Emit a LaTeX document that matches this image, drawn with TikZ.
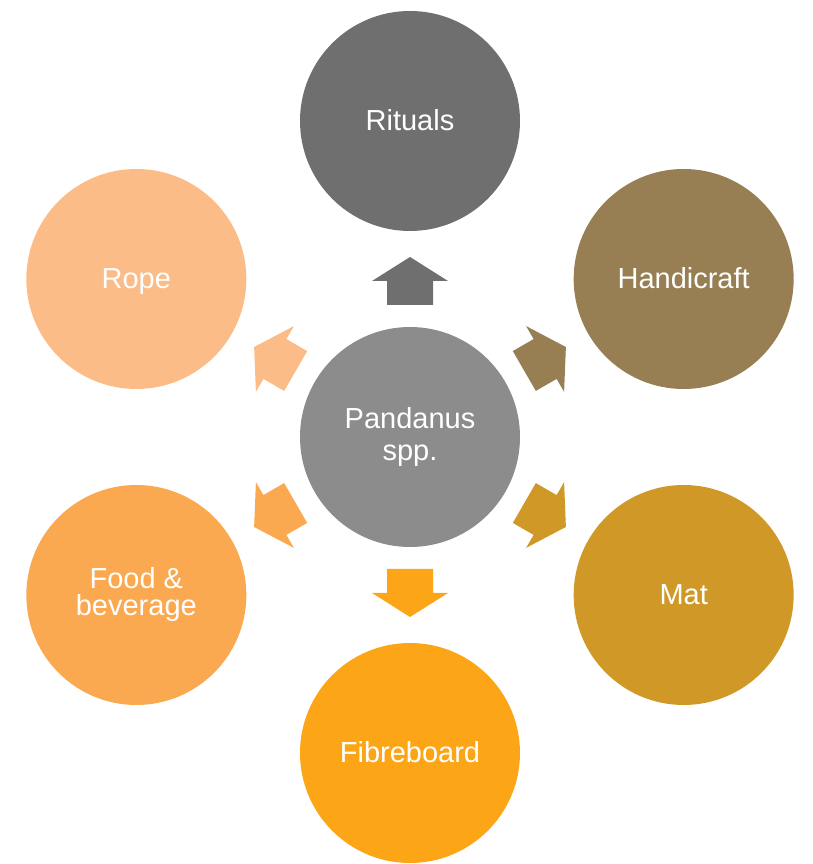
\documentclass[tikz,border=0pt]{standalone}
\usepackage{fontspec}
\setmainfont{Liberation Sans}
\usetikzlibrary{calc}
\definecolor{cRit}{HTML}{6F6F6F}
\definecolor{cCen}{HTML}{8C8C8C}
\definecolor{cHan}{HTML}{977F53}
\definecolor{cMat}{HTML}{D09927}
\definecolor{cFib}{HTML}{FCA617}
\definecolor{cFood}{HTML}{FBA950}
\definecolor{cRope}{HTML}{FCBC88}
\tikzset{
  bubble/.style={circle, minimum size=220pt, inner sep=0pt, text=white, align=center,
    font=\fontsize{29}{32}\selectfont},
  oneline/.style={bubble, text height=19pt, text depth=0pt},
}
\newcommand{\blockarrow}[2]{%
  \begin{scope}[shift={(cen.center)}, rotate=#1]
    \fill[#2] (132,-23) -- (156,-23) -- (156,-38) -- (180,0) -- (156,38) -- (156,23) -- (132,23) -- cycle;
  \end{scope}}
\begin{document}
\begin{tikzpicture}[x=1pt,y=1pt]
\useasboundingbox (0,0) rectangle (813,864);
\node[bubble, fill=cCen] (cen) at (410,427) {Pandanus\\spp.};
\node[oneline, fill=cRit] (rit) at ($(cen)+(90:316)$) {Rituals};
\node[oneline, fill=cHan] (han) at ($(cen)+(30:316)$) {Handicraft};
\node[oneline, fill=cMat] (mat) at ($(cen)+(-30:316)$) {Mat};
\node[oneline, fill=cFib] (fib) at ($(cen)+(-90:316)$) {Fibreboard};
\node[bubble, fill=cFood, font=\fontsize{29}{27}\selectfont] (food) at ($(cen)+(210:316)$) {Food \&\\beverage};
\node[oneline, fill=cRope] (rope) at ($(cen)+(150:316)$) {Rope};
\blockarrow{90}{cRit}
\blockarrow{30}{cHan}
\blockarrow{-30}{cMat}
\blockarrow{-90}{cFib}
\blockarrow{210}{cFood}
\blockarrow{150}{cRope}
\end{tikzpicture}
\end{document}
